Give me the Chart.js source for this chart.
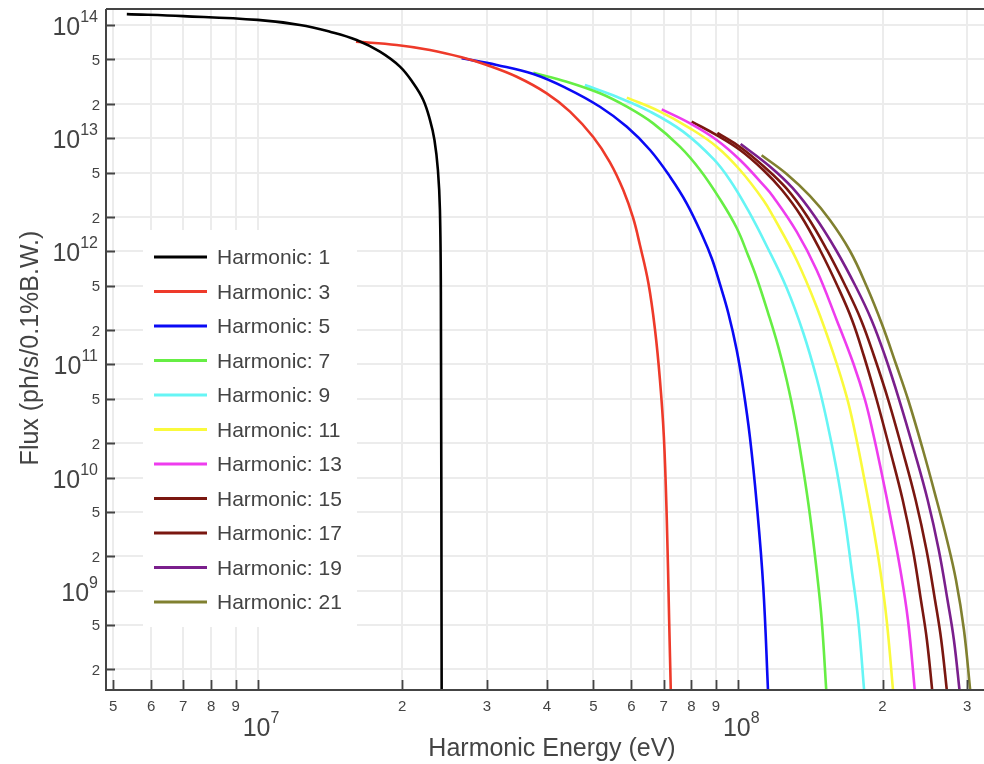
<!DOCTYPE html>
<html>
<head>
<meta charset="utf-8">
<script src="https://cdn.jsdelivr.net/npm/chart.js@4.4.1/dist/chart.umd.min.js"></script>
<style>
html,body{margin:0;padding:0;background:#ffffff;}
#wrap{width:984px;height:764px;position:relative;}
</style>
</head>
<body>
<div id="wrap"><canvas id="c" width="984" height="764"></canvas></div>
<script>
// ---------- data ----------
const harmonics = [1, 3, 5, 7, 9, 11, 13, 15, 17, 19, 21];

const energy1 = [5.34e6, 7.0e6, 1.0e7, 1.225e7, 1.414e7, 1.607e7, 1.797e7, 1.978e7, 2.109e7, 2.212e7, 2.284e7, 2.334e7, 2.373e7, 2.396e7, 2.407e7, 2.416e7];
const flux1   = [1.26e14, 1.21e14, 1.12e14, 1.01e14, 8.8e13, 7.44e13, 5.86e13, 4.32e13, 3.08e13, 2.19e13, 1.46e13, 9.70e12, 5.26e12, 2.33e12, 3.72e11, 1.2e8];

const energy3 = [1.602e7, 1.947e7, 2.284e7, 2.659e7, 3.0e7, 3.462e7, 3.998e7, 4.47e7, 4.996e7, 5.41e7, 5.77e7, 6.05e7, 6.25e7, 6.51e7, 6.72e7, 6.88e7, 7.01e7, 7.11e7, 7.19e7, 7.25e7];
const flux3   = [7.19e13, 6.72e13, 6.07e13, 5.23e13, 4.47e13, 3.52e13, 2.51e13, 1.73e13, 1.031e13, 6.19e12, 3.50e12, 1.98e12, 1.14e12, 5.23e11, 2.02e11, 7.29e10, 2.30e10, 4.21e9, 5.48e8, 1.2e8];

const energy5 = [2.659e7, 3.146e7, 3.75e7, 4.40e7, 5.16e7, 5.87e7, 6.56e7, 7.22e7, 7.82e7, 8.455e7, 8.83e7, 9.17e7, 9.55e7, 9.94e7, 1.026e8, 1.059e8, 1.094e8, 1.129e8, 1.156e8];
const flux5   = [5.13e13, 4.47e13, 3.72e13, 2.78e13, 1.91e13, 1.27e13, 7.91e12, 4.59e12, 2.67e12, 1.344e12, 8.58e11, 5.16e11, 2.84e11, 1.344e11, 6.07e10, 2.28e10, 5.91e9, 1.08e9, 1.2e8];

const energy7 = [3.75e7, 4.40e7, 5.16e7, 5.87e7, 6.66e7, 7.57e7, 8.34e7, 9.17e7, 9.94e7, 1.049e8, 1.094e8, 1.156e8, 1.213e8, 1.263e8, 1.3145e8, 1.368e8, 1.412e8, 1.458e8, 1.494e8, 1.529e8];
const flux7   = [3.82e13, 3.18e13, 2.51e13, 1.91e13, 1.36e13, 8.46e12, 5.26e12, 2.91e12, 1.614e12, 9.31e11, 5.83e11, 2.84e11, 1.44e11, 7.29e10, 3.23e10, 1.17e10, 4.66e9, 1.52e9, 5.48e8, 1.2e8];

const energy9 = [4.80e7, 5.59e7, 6.56e7, 7.69e7, 8.89e7, 9.62e7, 1.049e8, 1.1477e8, 1.263e8, 1.368e8, 1.458e8, 1.530e8, 1.605e8, 1.670e8, 1.725e8, 1.780e8, 1.834e8];
const flux9   = [2.97e13, 2.34e13, 1.73e13, 1.15e13, 6.59e12, 4.29e12, 2.33e12, 1.119e12, 4.75e11, 1.90e11, 7.59e10, 3.23e10, 1.17e10, 4.21e9, 1.52e9, 5.48e8, 1.2e8];

const energy11 = [5.87e7, 6.88e7, 7.95e7, 9.03e7, 1.010e8, 1.129e8, 1.185e8, 1.325e8, 1.458e8, 1.579e8, 1.684e8, 1.752e8, 1.809e8, 1.898e8, 1.975e8, 2.04e8, 2.107e8];
const flux11   = [2.30e13, 1.73e13, 1.23e13, 8.46e12, 5.26e12, 2.86e12, 2.03e12, 8.41e11, 3.25e11, 1.26e11, 5.19e10, 2.53e10, 1.29e10, 4.38e9, 1.58e9, 5.48e8, 1.2e8];

const energy13 = [6.94e7, 7.95e7, 9.03e7, 1.010e8, 1.129e8, 1.185e8, 1.325e8, 1.458e8, 1.605e8, 1.739e8, 1.839e8, 1.913e8, 1.985e8, 2.083e8, 2.175e8, 2.259e8, 2.339e8];
const flux13   = [1.81e13, 1.36e13, 9.70e12, 6.45e12, 3.88e12, 3.04e12, 1.50e12, 6.86e11, 2.48e11, 1.02e11, 4.85e10, 2.43e10, 1.17e10, 4.21e9, 1.58e9, 5.48e8, 1.2e8];

const energy15 = [8.01e7, 9.03e7, 1.010e8, 1.129e8, 1.235e8, 1.353e8, 1.482e8, 1.615e8, 1.728e8, 1.829e8, 1.945e8, 2.073e8, 2.203e8, 2.314e8, 2.404e8, 2.474e8, 2.543e8];
const flux15   = [1.41e13, 1.07e13, 7.91e12, 5.26e12, 3.50e12, 2.06e12, 1.031e12, 4.85e11, 2.48e11, 1.189e11, 4.85e10, 1.751e10, 6.32e9, 2.28e9, 8.24e8, 3.65e8, 1.2e8];

const energy17 = [9.06e7, 1.010e8, 1.129e8, 1.259e8, 1.392e8, 1.532e8, 1.678e8, 1.804e8, 1.920e8, 2.056e8, 2.200e8, 2.344e8, 2.469e8, 2.572e8, 2.650e8, 2.728e8];
const flux17   = [1.12e13, 8.41e12, 5.71e12, 3.65e12, 2.06e12, 1.031e12, 4.85e11, 2.48e11, 1.189e11, 4.85e10, 1.751e10, 6.32e9, 2.28e9, 8.24e8, 3.65e8, 1.2e8];

const energy19 = [1.013e8, 1.162e8, 1.299e8, 1.443e8, 1.600e8, 1.761e8, 1.897e8, 2.024e8, 2.167e8, 2.325e8, 2.483e8, 2.619e8, 2.731e8, 2.816e8, 2.899e8];
const flux19   = [8.94e12, 5.71e12, 3.65e12, 2.06e12, 1.031e12, 4.85e11, 2.48e11, 1.189e11, 4.85e10, 1.751e10, 6.32e9, 2.28e9, 8.24e8, 3.65e8, 1.2e8];

const energy21 = [1.12e8, 1.263e8, 1.412e8, 1.554e8, 1.711e8, 1.856e8, 1.994e8, 2.133e8, 2.262e8, 2.428e8, 2.592e8, 2.724e8, 2.844e8, 2.955e8, 3.051e8];
const flux21   = [7.10e12, 4.85e12, 3.10e12, 1.90e12, 1.01e12, 4.85e11, 2.28e11, 1.01e11, 4.85e10, 1.751e10, 6.32e9, 2.80e9, 1.238e9, 4.47e8, 1.2e8];

const xTickValues = [5e6, 6e6, 7e6, 8e6, 9e6, 1e7, 2e7, 3e7, 4e7, 5e7, 6e7, 7e7, 8e7, 9e7, 1e8, 2e8, 3e8];
const xTickLabels = ['5', '6', '7', '8', '9', '10^7', '2', '3', '4', '5', '6', '7', '8', '9', '10^8', '2', '3'];
const yTickValues = [2e8, 5e8, 1e9, 2e9, 5e9, 1e10, 2e10, 5e10, 1e11, 2e11, 5e11, 1e12, 2e12, 5e12, 1e13, 2e13, 5e13, 1e14];
const yTickLabels = ['2', '5', '10^9', '2', '5', '10^10', '2', '5', '10^11', '2', '5', '10^12', '2', '5', '10^13', '2', '5', '10^14'];

const xTitle = 'Harmonic Energy (eV)';
const yTitle = 'Flux (ph/s/0.1%B.W.)';

// ---------- styles ----------
const lineColors = ['#000000', '#ee3a2a', '#0a0af5', '#66ee44', '#66f5f5', '#fafa3c', '#ee3cee', '#7a1710', '#7a1710', '#7a1f8c', '#808030'];
const FONT = '"Liberation Sans", Arial, Helvetica, sans-serif';
const TEXT = '#444444';

const energies = [energy1, energy3, energy5, energy7, energy9, energy11, energy13, energy15, energy17, energy19, energy21];
const fluxes = [flux1, flux3, flux5, flux7, flux9, flux11, flux13, flux15, flux17, flux19, flux21];

const datasets = harmonics.map((h, i) => ({
  label: 'Harmonic: ' + h,
  data: energies[i].map((e, j) => ({ x: e, y: fluxes[i][j] })),
  borderColor: lineColors[i],
  backgroundColor: lineColors[i],
  borderWidth: 2.6,
  pointRadius: 0,
  fill: false,
  tension: 0.4
}));

function drawPow(ctx, base, exp, x, y, align, baseSize, supSize, supRise) {
  ctx.font = baseSize + 'px ' + FONT;
  const w1 = ctx.measureText(base).width;
  ctx.font = supSize + 'px ' + FONT;
  const w2 = ctx.measureText(exp).width;
  let left = align === 'right' ? x - w1 - w2 : x;
  ctx.textAlign = 'left';
  ctx.textBaseline = 'alphabetic';
  ctx.font = baseSize + 'px ' + FONT;
  ctx.fillText(base, left, y);
  ctx.font = supSize + 'px ' + FONT;
  ctx.fillText(exp, left + w1, y - supRise);
}

const decorPlugin = {
  id: 'decor',
  afterDatasetsDraw(chart) {
    const ctx = chart.ctx, a = chart.chartArea;
    const xs = chart.scales.x, ys = chart.scales.y;
    ctx.save();
    // legend box
    ctx.fillStyle = '#ffffff';
    ctx.fillRect(143, 230, 214, 397);
    chart.data.datasets.forEach((ds, i) => {
      const yy = 257 + i * 34.5;
      ctx.strokeStyle = ds.borderColor;
      ctx.lineWidth = 3;
      ctx.beginPath();
      ctx.moveTo(154, yy);
      ctx.lineTo(207, yy);
      ctx.stroke();
      ctx.fillStyle = TEXT;
      ctx.font = '21px ' + FONT;
      ctx.textAlign = 'left';
      ctx.textBaseline = 'middle';
      ctx.fillText(ds.label, 217, yy + 1.5);
    });
    // axis lines
    ctx.strokeStyle = '#444444';
    ctx.lineWidth = 2;
    ctx.beginPath();
    ctx.moveTo(a.left, a.top);
    ctx.lineTo(a.right, a.top);
    ctx.moveTo(a.left, a.top);
    ctx.lineTo(a.left, a.bottom);
    ctx.lineTo(a.right, a.bottom);
    ctx.stroke();
    // inside tick marks
    ctx.lineWidth = 1.8;
    ctx.beginPath();
    yTickValues.forEach(v => {
      const y = Math.round(ys.getPixelForValue(v)) + 0.5;
      ctx.moveTo(a.left, y);
      ctx.lineTo(a.left + 9, y);
    });
    xTickValues.forEach(v => {
      const x = Math.round(xs.getPixelForValue(v)) + 0.5;
      ctx.moveTo(x, a.bottom);
      ctx.lineTo(x, a.bottom - 10);
    });
    ctx.stroke();
    ctx.restore();
  },
  afterDraw(chart) {
    const ctx = chart.ctx;
    const xs = chart.scales.x, ys = chart.scales.y;
    ctx.save();
    ctx.fillStyle = TEXT;
    // y tick labels
    yTickValues.forEach((v, i) => {
      const y = ys.getPixelForValue(v);
      const lab = yTickLabels[i];
      if (lab.indexOf('^') >= 0) {
        const p = lab.split('^');
        drawPow(ctx, p[0], p[1], 98, y + 10, 'right', 25, 16, 13);
      } else {
        ctx.font = '15px ' + FONT;
        ctx.textAlign = 'right';
        ctx.textBaseline = 'middle';
        ctx.fillText(lab, 100, y + 1);
      }
    });
    // x tick labels
    xTickValues.forEach((v, i) => {
      const x = xs.getPixelForValue(v);
      const lab = xTickLabels[i];
      if (lab.indexOf('^') >= 0) {
        const p = lab.split('^');
        drawPow(ctx, p[0], p[1], x - 15, 736, 'left', 25, 16, 13);
      } else {
        ctx.font = '15px ' + FONT;
        ctx.textAlign = 'center';
        ctx.textBaseline = 'middle';
        ctx.fillText(lab, x, 707);
      }
    });
    // axis titles
    ctx.font = '25px ' + FONT;
    ctx.textAlign = 'center';
    ctx.textBaseline = 'alphabetic';
    ctx.fillText(xTitle, 552, 756);
    ctx.save();
    ctx.translate(38, 348);
    ctx.rotate(-Math.PI / 2);
    ctx.fillText(yTitle, 0, 0);
    ctx.restore();
    ctx.restore();
  }
};

new Chart(document.getElementById('c'), {
  type: 'line',
  data: { datasets: datasets },
  options: {
    responsive: false,
    devicePixelRatio: 1,
    animation: false,
    layout: { padding: { left: 106, top: 9, right: 0, bottom: 74 } },
    plugins: { legend: { display: false }, tooltip: { enabled: false } },
    scales: {
      x: {
        type: 'logarithmic',
        bounds: 'data',
        min: 4.833e6,
        max: 3.253e8,
        ticks: { display: false },
        border: { display: false },
        grid: { color: '#ececec', lineWidth: 2, drawTicks: false },
        afterBuildTicks: s => { s.ticks = xTickValues.map(v => ({ value: v })); }
      },
      y: {
        type: 'logarithmic',
        bounds: 'data',
        min: 1.317e8,
        max: 1.399e14,
        ticks: { display: false },
        border: { display: false },
        grid: { color: '#ececec', lineWidth: 2, drawTicks: false },
        afterBuildTicks: s => { s.ticks = yTickValues.map(v => ({ value: v })); }
      }
    }
  },
  plugins: [decorPlugin]
});
</script>
</body>
</html>
